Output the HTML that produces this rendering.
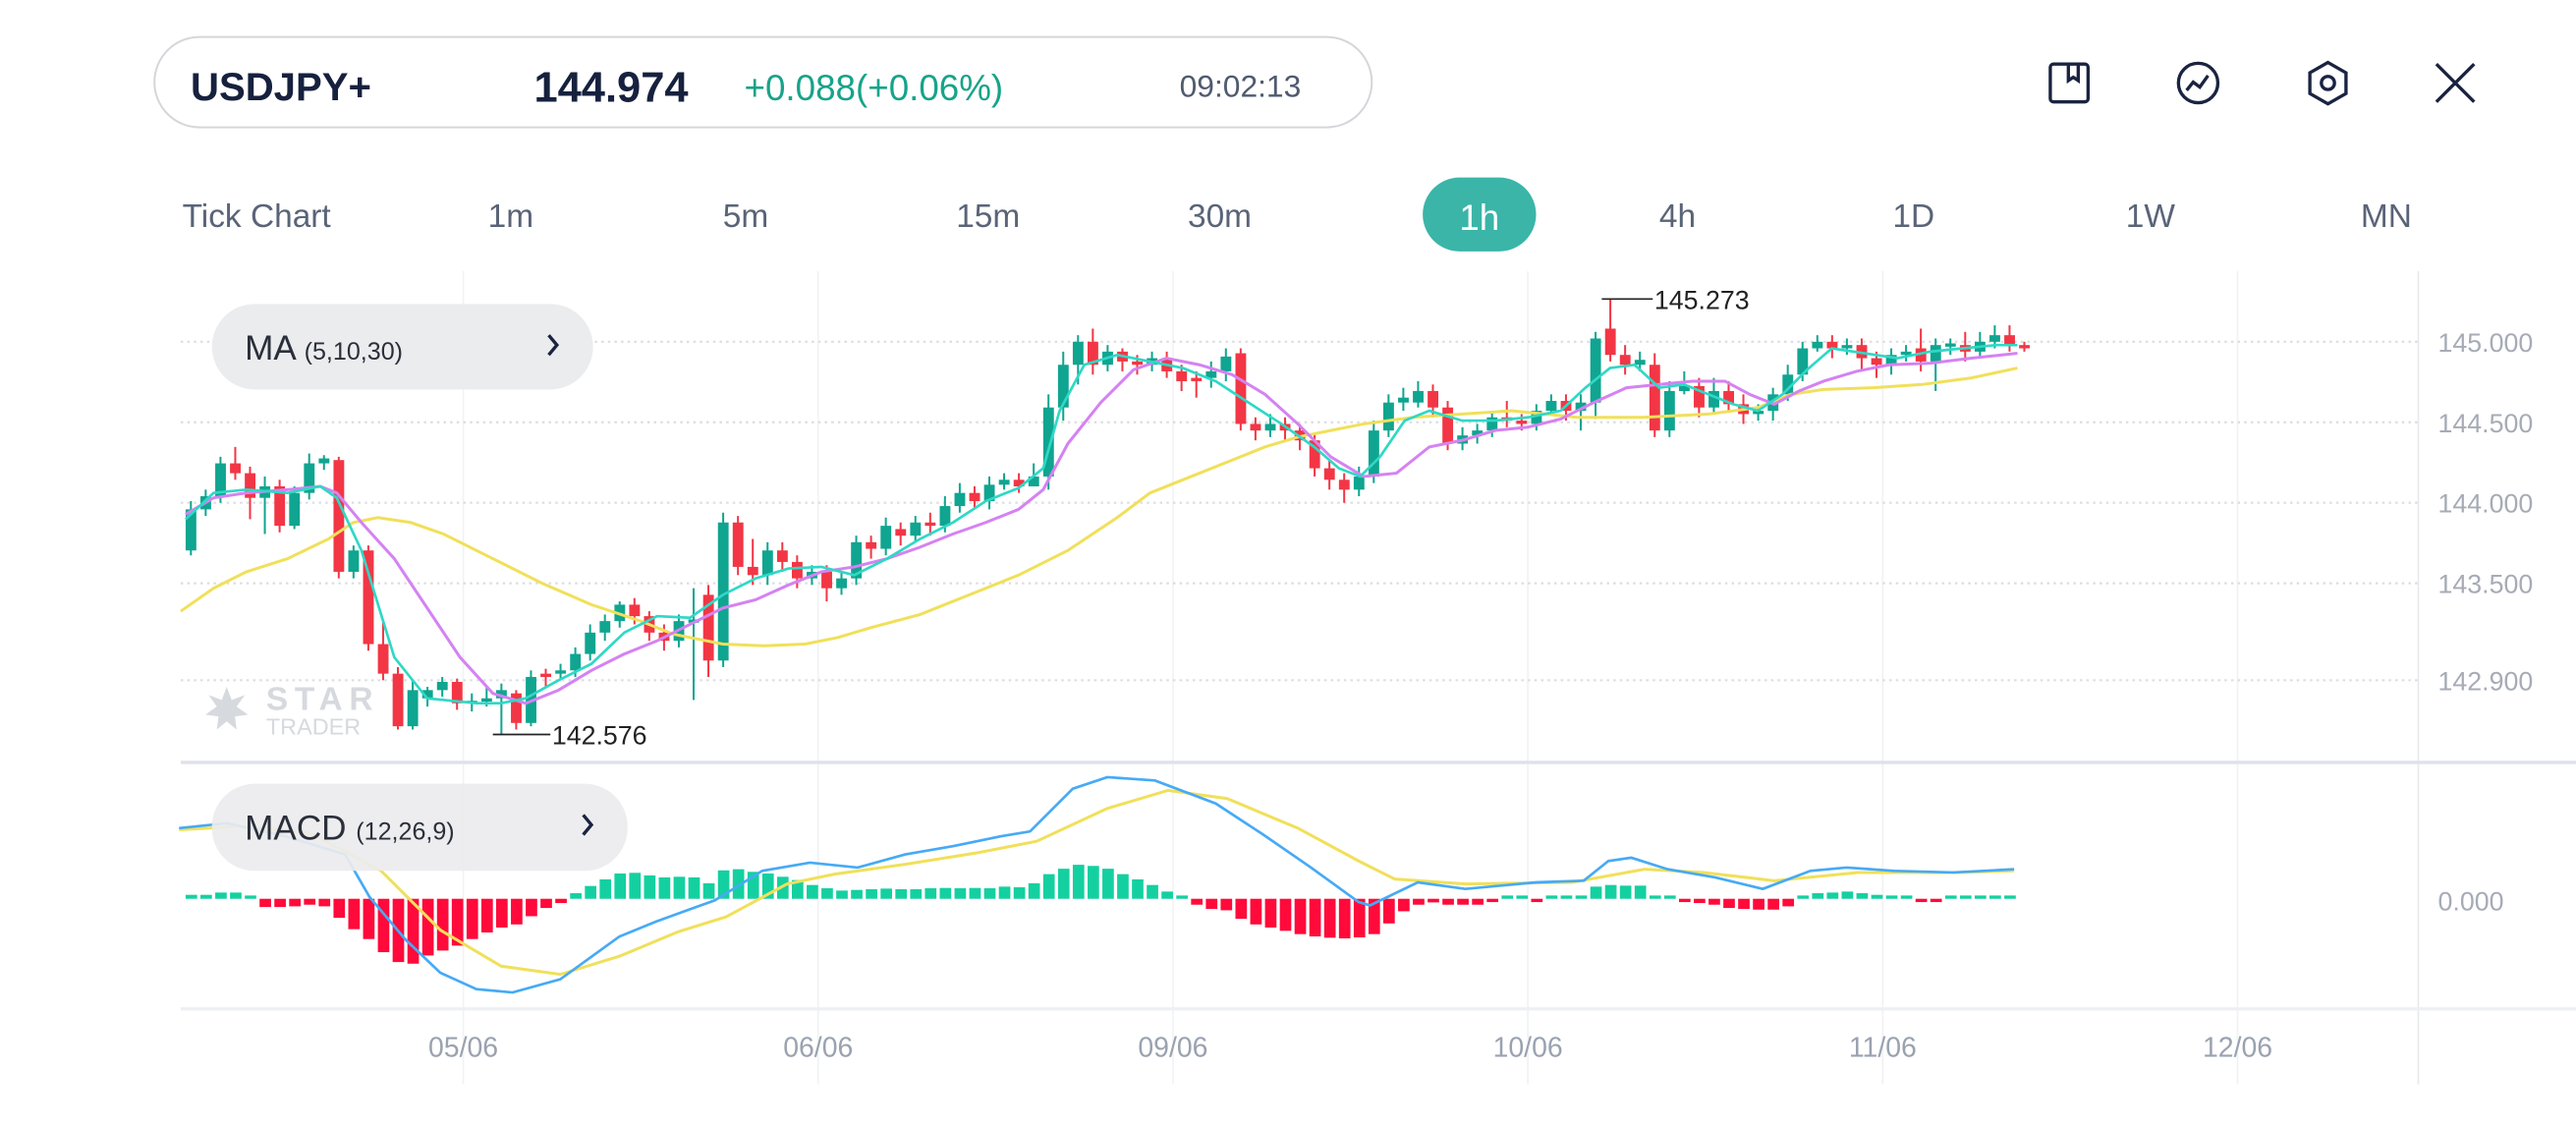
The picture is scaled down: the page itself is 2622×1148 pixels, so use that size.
<!DOCTYPE html>
<html><head><meta charset="utf-8"><style>
html,body{margin:0;padding:0;background:#fff;}
svg{display:block;}
text{font-family:"Liberation Sans",sans-serif;}
.g{fill:#0fa590}.r{fill:#f23645}
.gw{stroke:#0fa590;stroke-width:1.2}.rw{stroke:#f23645;stroke-width:1.2}
.hg{fill:#14d0a0}.hr{fill:#ff0a3a}
</style></head><body>
<svg xmlns="http://www.w3.org/2000/svg" width="2622" height="1148" viewBox="0 0 1568 686.5" preserveAspectRatio="none">
<rect width="1568" height="686.5" fill="#fff"/>
<rect x="94" y="22.5" width="741" height="55" rx="27.5" fill="#fff" stroke="#d4d6da" stroke-width="1.2"/>
<text x="116" y="61" font-size="24" font-weight="bold" fill="#16213e">USDJPY+</text>
<text x="325" y="62" font-size="26" font-weight="bold" fill="#16213e">144.974</text>
<text x="453" y="61" font-size="22" fill="#17a38a">+0.088(+0.06%)</text>
<text x="718" y="59" font-size="19" fill="#505a70">09:02:13</text>
<g fill="none" stroke="#1a2340" stroke-width="2">
<rect x="1248" y="39" width="23" height="23" rx="2"/>
<path d="M1259 39 v10 l3 -2 l3 2 v-10"/>
<circle cx="1338" cy="50.5" r="12"/>
<path d="M1331 55 l4 -5 l4 3 l5 -7"/>
<path d="M1417 38 l11 6.3 v12.6 l-11 6.3 l-11 -6.3 v-12.6 z"/>
<circle cx="1417" cy="50.5" r="4"/>
<path d="M1483 39 l23 23 M1506 39 l-23 23"/>
</g>
<g font-size="20" fill="#5a6478">
<text x="111" y="138">Tick Chart</text><text x="297" y="138">1m</text><text x="440" y="138">5m</text>
<text x="582" y="138">15m</text><text x="723" y="138">30m</text><text x="1010" y="138">4h</text>
<text x="1152" y="138">1D</text><text x="1294" y="138">1W</text><text x="1437" y="138">MN</text>
</g>
<rect x="866" y="108" width="69" height="45" rx="22.5" fill="#3bb5a8"/>
<text x="900.5" y="140" font-size="22" fill="#fff" text-anchor="middle">1h</text>
<g stroke="#f1f2f4" stroke-width="1">
<line x1="282" y1="165" x2="282" y2="660"/><line x1="498" y1="165" x2="498" y2="660"/>
<line x1="714" y1="165" x2="714" y2="660"/><line x1="930" y1="165" x2="930" y2="660"/>
<line x1="1146" y1="165" x2="1146" y2="660"/><line x1="1362" y1="165" x2="1362" y2="660"/>
<line x1="1472" y1="165" x2="1472" y2="660" stroke="#e8e9ec"/>
<line x1="110" y1="614" x2="1568" y2="614" stroke="#eeeff2" stroke-width="2"/>
</g>
<g stroke="#dcdde2" stroke-width="1.3" stroke-dasharray="1.5 2.5">
<line x1="110" y1="208" x2="1472" y2="208"/><line x1="110" y1="257" x2="1472" y2="257"/>
<line x1="110" y1="306" x2="1472" y2="306"/><line x1="110" y1="355" x2="1472" y2="355"/>
<line x1="110" y1="414" x2="1472" y2="414"/>
</g>
<line x1="110" y1="464" x2="1568" y2="464" stroke="#dfe1ea" stroke-width="2"/>
<g font-size="16" fill="#a6abb6">
<text x="1484" y="214">145.000</text><text x="1484" y="263">144.500</text>
<text x="1484" y="312">144.000</text><text x="1484" y="361">143.500</text>
<text x="1484" y="420">142.900</text><text x="1484" y="554">0.000</text>
</g>
<g font-size="17" fill="#9aa2b0" text-anchor="middle">
<text x="282" y="643">05/06</text><text x="498" y="643">06/06</text><text x="714" y="643">09/06</text>
<text x="930" y="643">10/06</text><text x="1146" y="643">11/06</text><text x="1362" y="643">12/06</text>
</g>
<g fill="#d6d9de">
<path d="M138 418 l3 8 l8 -3 l-5 7 l7 5 l-8 1 l1 8 l-6 -5 l-6 5 l1 -8 l-8 -1 l7 -5 l-5 -7 l8 3 z"/>
<text x="162" y="432" font-size="20" font-weight="bold" letter-spacing="4">STAR</text>
<text x="162" y="447" font-size="14">TRADER</text>
</g>

<!-- candles -->
<g>
<path class="gw" d="M116.2 305V338"/><rect class="g" x="113" y="310" width="6.5" height="25"/>
<path class="gw" d="M125.2 298V314"/><rect class="g" x="122" y="302" width="6.5" height="8"/>
<path class="gw" d="M134.2 278V306"/><rect class="g" x="131" y="282" width="6.5" height="20"/>
<path class="rw" d="M143.2 272V292"/><rect class="r" x="140" y="282" width="6.5" height="6"/>
<path class="rw" d="M152.2 284V316"/><rect class="r" x="149" y="288" width="6.5" height="15"/>
<path class="gw" d="M161.2 290V325"/><rect class="g" x="158" y="296" width="6.5" height="7"/>
<path class="rw" d="M170.2 292V324"/><rect class="r" x="167" y="296" width="6.5" height="24"/>
<path class="gw" d="M179.2 296V322"/><rect class="g" x="176" y="300" width="6.5" height="20"/>
<path class="gw" d="M188.2 276V304"/><rect class="g" x="185" y="282" width="6.5" height="18"/>
<path class="gw" d="M197.2 277V286"/><rect class="g" x="194" y="279" width="6.5" height="3"/>
<path class="rw" d="M206.2 278V352"/><rect class="r" x="203" y="280" width="6.5" height="68"/>
<path class="gw" d="M215.2 332V352"/><rect class="g" x="212" y="335" width="6.5" height="13"/>
<path class="rw" d="M224.2 332V396"/><rect class="r" x="221" y="335" width="6.5" height="57"/>
<path class="rw" d="M233.2 378V414"/><rect class="r" x="230" y="392" width="6.5" height="18"/>
<path class="rw" d="M242.2 406V444"/><rect class="r" x="239" y="410" width="6.5" height="32"/>
<path class="gw" d="M251.2 414V444"/><rect class="g" x="248" y="420" width="6.5" height="22"/>
<path class="gw" d="M260.2 418V430"/><rect class="g" x="257" y="420" width="6.5" height="5"/>
<path class="gw" d="M269.2 412V424"/><rect class="g" x="266" y="415" width="6.5" height="5"/>
<path class="rw" d="M278.2 413V432"/><rect class="r" x="275" y="415" width="6.5" height="13"/>
<path class="gw" d="M287.2 422V433"/><rect class="g" x="284" y="426.5" width="6.5" height="1.5"/>
<path class="gw" d="M296.2 418V430"/><rect class="g" x="293" y="425" width="6.5" height="2"/>
<path class="gw" d="M305.2 416V447"/><rect class="g" x="302" y="420" width="6.5" height="5"/>
<path class="rw" d="M314.2 420V444"/><rect class="r" x="311" y="422" width="6.5" height="18"/>
<path class="gw" d="M323.2 408V442"/><rect class="g" x="320" y="412" width="6.5" height="28"/>
<path class="rw" d="M332.2 407V418"/><rect class="r" x="329" y="410" width="6.5" height="2"/>
<path class="gw" d="M341.2 404V414"/><rect class="g" x="338" y="408" width="6.5" height="2"/>
<path class="gw" d="M350.2 394V412"/><rect class="g" x="347" y="398" width="6.5" height="10"/>
<path class="gw" d="M359.2 380V402"/><rect class="g" x="356" y="385" width="6.5" height="13"/>
<path class="gw" d="M368.2 374V390"/><rect class="g" x="365" y="378" width="6.5" height="7"/>
<path class="gw" d="M377.2 366V382"/><rect class="g" x="374" y="368" width="6.5" height="10"/>
<path class="rw" d="M386.2 364V380"/><rect class="r" x="383" y="368" width="6.5" height="7"/>
<path class="rw" d="M395.2 372V390"/><rect class="r" x="392" y="375" width="6.5" height="10"/>
<path class="rw" d="M404.2 380V396"/><rect class="r" x="401" y="385" width="6.5" height="5"/>
<path class="gw" d="M413.2 374V394"/><rect class="g" x="410" y="378" width="6.5" height="12"/>
<path class="gw" d="M422.2 358V426"/><rect class="g" x="419" y="377" width="6.5" height="2"/>
<path class="rw" d="M431.2 356V412"/><rect class="r" x="428" y="362" width="6.5" height="40"/>
<path class="gw" d="M440.2 312V406"/><rect class="g" x="437" y="318" width="6.5" height="84"/>
<path class="rw" d="M449.2 314V350"/><rect class="r" x="446" y="318" width="6.5" height="27"/>
<path class="rw" d="M458.2 328V356"/><rect class="r" x="455" y="345" width="6.5" height="5"/>
<path class="gw" d="M467.2 330V356"/><rect class="g" x="464" y="335" width="6.5" height="15"/>
<path class="rw" d="M476.2 330V348"/><rect class="r" x="473" y="335" width="6.5" height="7"/>
<path class="rw" d="M485.2 338V358"/><rect class="r" x="482" y="342" width="6.5" height="10"/>
<path class="gw" d="M494.2 344V356"/><rect class="g" x="491" y="348" width="6.5" height="4"/>
<path class="rw" d="M503.2 344V366"/><rect class="r" x="500" y="348" width="6.5" height="10"/>
<path class="gw" d="M512.2 348V362"/><rect class="g" x="509" y="352" width="6.5" height="6"/>
<path class="gw" d="M521.2 326V356"/><rect class="g" x="518" y="330" width="6.5" height="22"/>
<path class="rw" d="M530.2 326V340"/><rect class="r" x="527" y="330" width="6.5" height="4"/>
<path class="gw" d="M539.2 315V338"/><rect class="g" x="536" y="320" width="6.5" height="14"/>
<path class="rw" d="M548.2 318V332"/><rect class="r" x="545" y="322" width="6.5" height="4"/>
<path class="gw" d="M557.2 314V330"/><rect class="g" x="554" y="318" width="6.5" height="8"/>
<path class="rw" d="M566.2 312V326"/><rect class="r" x="563" y="318" width="6.5" height="2"/>
<path class="gw" d="M575.2 302V324"/><rect class="g" x="572" y="308" width="6.5" height="12"/>
<path class="gw" d="M584.2 294V312"/><rect class="g" x="581" y="300" width="6.5" height="8"/>
<path class="rw" d="M593.2 296V310"/><rect class="r" x="590" y="300" width="6.5" height="5"/>
<path class="gw" d="M602.2 290V310"/><rect class="g" x="599" y="295" width="6.5" height="10"/>
<path class="gw" d="M611.2 288V298"/><rect class="g" x="608" y="292" width="6.5" height="3"/>
<path class="rw" d="M620.2 288V300"/><rect class="r" x="617" y="292" width="6.5" height="4"/>
<path class="gw" d="M629.2 282V296"/><rect class="g" x="626" y="290" width="6.5" height="6"/>
<path class="gw" d="M638.2 240V298"/><rect class="g" x="635" y="248" width="6.5" height="42"/>
<path class="gw" d="M647.2 214V256"/><rect class="g" x="644" y="222" width="6.5" height="26"/>
<path class="gw" d="M656.2 204V234"/><rect class="g" x="653" y="208" width="6.5" height="14"/>
<path class="rw" d="M665.2 200V228"/><rect class="r" x="662" y="208" width="6.5" height="14"/>
<path class="gw" d="M674.2 210V226"/><rect class="g" x="671" y="214" width="6.5" height="8"/>
<path class="rw" d="M683.2 212V226"/><rect class="r" x="680" y="214" width="6.5" height="6"/>
<path class="rw" d="M692.2 216V228"/><rect class="r" x="689" y="220" width="6.5" height="2"/>
<path class="gw" d="M701.2 214V226"/><rect class="g" x="698" y="218" width="6.5" height="4"/>
<path class="rw" d="M710.2 214V230"/><rect class="r" x="707" y="218" width="6.5" height="8"/>
<path class="rw" d="M719.2 222V238"/><rect class="r" x="716" y="226" width="6.5" height="6"/>
<path class="rw" d="M728.2 226V242"/><rect class="r" x="725" y="230" width="6.5" height="2"/>
<path class="gw" d="M737.2 220V236"/><rect class="g" x="734" y="226" width="6.5" height="4"/>
<path class="gw" d="M746.2 212V232"/><rect class="g" x="743" y="217" width="6.5" height="9"/>
<path class="rw" d="M755.2 212V262"/><rect class="r" x="752" y="215" width="6.5" height="43"/>
<path class="rw" d="M764.2 254V268"/><rect class="r" x="761" y="258" width="6.5" height="4"/>
<path class="gw" d="M773.2 252V266"/><rect class="g" x="770" y="258" width="6.5" height="4"/>
<path class="rw" d="M782.2 254V268"/><rect class="r" x="779" y="258" width="6.5" height="4"/>
<path class="rw" d="M791.2 258V274"/><rect class="r" x="788" y="262" width="6.5" height="6"/>
<path class="rw" d="M800.2 264V290"/><rect class="r" x="797" y="268" width="6.5" height="17"/>
<path class="rw" d="M809.2 280V298"/><rect class="r" x="806" y="285" width="6.5" height="7"/>
<path class="rw" d="M818.2 288V306"/><rect class="r" x="815" y="292" width="6.5" height="6"/>
<path class="gw" d="M827.2 284V302"/><rect class="g" x="824" y="290" width="6.5" height="8"/>
<path class="gw" d="M836.2 256V294"/><rect class="g" x="833" y="262" width="6.5" height="28"/>
<path class="gw" d="M845.2 240V266"/><rect class="g" x="842" y="245" width="6.5" height="17"/>
<path class="gw" d="M854.2 236V250"/><rect class="g" x="851" y="242" width="6.5" height="3"/>
<path class="gw" d="M863.2 232V248"/><rect class="g" x="860" y="238" width="6.5" height="7"/>
<path class="rw" d="M872.2 234V254"/><rect class="r" x="869" y="238" width="6.5" height="10"/>
<path class="rw" d="M881.2 244V274"/><rect class="r" x="878" y="248" width="6.5" height="22"/>
<path class="gw" d="M890.2 260V274"/><rect class="g" x="887" y="265" width="6.5" height="5"/>
<path class="gw" d="M899.2 258V270"/><rect class="g" x="896" y="262" width="6.5" height="3"/>
<path class="gw" d="M908.2 250V266"/><rect class="g" x="905" y="254" width="6.5" height="8"/>
<path class="rw" d="M917.2 244V260"/><rect class="r" x="914" y="254" width="6.5" height="2"/>
<path class="rw" d="M926.2 252V262"/><rect class="r" x="923" y="256" width="6.5" height="2"/>
<path class="gw" d="M935.2 246V262"/><rect class="g" x="932" y="250" width="6.5" height="8"/>
<path class="gw" d="M944.2 240V252"/><rect class="g" x="941" y="244" width="6.5" height="6"/>
<path class="rw" d="M953.2 240V256"/><rect class="r" x="950" y="244" width="6.5" height="6"/>
<path class="gw" d="M962.2 240V262"/><rect class="g" x="959" y="245" width="6.5" height="5"/>
<path class="gw" d="M971.2 202V255"/><rect class="g" x="968" y="206" width="6.5" height="39"/>
<path class="rw" d="M980.2 182V220"/><rect class="r" x="977" y="200" width="6.5" height="16"/>
<path class="rw" d="M989.2 210V228"/><rect class="r" x="986" y="216" width="6.5" height="6"/>
<path class="gw" d="M998.2 214V226"/><rect class="g" x="995" y="219" width="6.5" height="3"/>
<path class="rw" d="M1007.2 215V266"/><rect class="r" x="1004" y="222" width="6.5" height="40"/>
<path class="gw" d="M1016.2 232V266"/><rect class="g" x="1013" y="238" width="6.5" height="24"/>
<path class="gw" d="M1025.2 226V240"/><rect class="g" x="1022" y="235" width="6.5" height="3"/>
<path class="rw" d="M1034.2 230V254"/><rect class="r" x="1031" y="235" width="6.5" height="13"/>
<path class="gw" d="M1043.2 230V252"/><rect class="g" x="1040" y="238" width="6.5" height="10"/>
<path class="rw" d="M1052.2 232V250"/><rect class="r" x="1049" y="238" width="6.5" height="8"/>
<path class="rw" d="M1061.2 240V258"/><rect class="r" x="1058" y="246" width="6.5" height="6"/>
<path class="gw" d="M1070.2 246V256"/><rect class="g" x="1067" y="250" width="6.5" height="2"/>
<path class="gw" d="M1079.2 236V256"/><rect class="g" x="1076" y="240" width="6.5" height="10"/>
<path class="gw" d="M1088.2 222V244"/><rect class="g" x="1085" y="228" width="6.5" height="12"/>
<path class="gw" d="M1097.2 208V232"/><rect class="g" x="1094" y="212" width="6.5" height="16"/>
<path class="gw" d="M1106.2 204V214"/><rect class="g" x="1103" y="208" width="6.5" height="4"/>
<path class="rw" d="M1115.2 204V218"/><rect class="r" x="1112" y="208" width="6.5" height="4"/>
<path class="gw" d="M1124.2 206V216"/><rect class="g" x="1121" y="210" width="6.5" height="2"/>
<path class="rw" d="M1133.2 206V226"/><rect class="r" x="1130" y="210" width="6.5" height="8"/>
<path class="rw" d="M1142.2 214V230"/><rect class="r" x="1139" y="218" width="6.5" height="4"/>
<path class="gw" d="M1151.2 212V228"/><rect class="g" x="1148" y="216" width="6.5" height="6"/>
<path class="gw" d="M1160.2 210V220"/><rect class="g" x="1157" y="214" width="6.5" height="2"/>
<path class="rw" d="M1169.2 200V226"/><rect class="r" x="1166" y="212" width="6.5" height="8"/>
<path class="gw" d="M1178.2 206V238"/><rect class="g" x="1175" y="210" width="6.5" height="10"/>
<path class="gw" d="M1187.2 206V216"/><rect class="g" x="1184" y="209" width="6.5" height="2"/>
<path class="rw" d="M1196.2 202V220"/><rect class="r" x="1193" y="210" width="6.5" height="4"/>
<path class="gw" d="M1205.2 202V218"/><rect class="g" x="1202" y="208" width="6.5" height="6"/>
<path class="gw" d="M1214.2 198V212"/><rect class="g" x="1211" y="204" width="6.5" height="4"/>
<path class="rw" d="M1223.2 198V214"/><rect class="r" x="1220" y="204" width="6.5" height="6"/>
<path class="rw" d="M1232.2 208V214"/><rect class="r" x="1229" y="210" width="6.5" height="2"/>
</g>
<!-- MAs -->
<polyline fill="none" stroke="#f0e05a" stroke-width="1.8" points="110,372 130,358 150,348 175,340 200,328 215,318 230,315 250,318 270,325 300,340 330,355 360,368 390,378 410,386 440,392 465,393 490,392 510,388 530,382 560,374 590,362 620,350 650,335 680,315 700,300 720,292 750,280 770,272 790,266 810,262 830,258 860,254 890,252 920,250 960,254 1000,254 1040,252 1070,248 1090,240 1110,237 1140,236 1170,234 1200,230 1228,224"/>
<polyline fill="none" stroke="#d582f2" stroke-width="1.8" points="113,313 130,303 150,300 175,298 195,296 205,300 220,318 240,340 260,370 280,400 300,422 320,428 340,420 360,408 380,398 400,390 420,380 440,370 460,365 480,356 500,348 520,345 540,340 560,333 580,325 600,318 620,310 635,298 650,270 670,245 690,225 710,218 730,222 750,228 770,240 790,258 810,278 830,290 850,288 870,272 890,268 910,262 930,260 950,255 970,245 990,236 1010,234 1030,232 1050,232 1065,240 1080,246 1095,238 1110,232 1130,226 1150,222 1175,221 1200,218 1228,215"/>
<polyline fill="none" stroke="#2fd8c6" stroke-width="1.6" points="113,316 130,300 150,298 175,300 195,296 205,303 220,335 240,400 260,425 290,428 305,428 320,425 340,414 360,404 380,385 400,375 420,376 440,362 460,352 480,346 500,345 520,350 540,340 560,328 580,318 600,305 620,297 635,285 645,250 660,222 680,216 700,220 720,224 740,232 760,245 780,258 800,272 815,285 828,290 840,278 855,256 870,250 890,256 910,256 930,254 950,250 965,236 980,224 995,222 1010,236 1025,234 1040,240 1055,246 1070,250 1085,240 1100,225 1115,212 1135,215 1155,218 1175,214 1195,212 1215,210 1228,210"/>

<!-- MACD histogram -->
<g>
<rect class="hg" x="113" y="544.6" width="7" height="2.4"/><rect class="hg" x="122" y="544.6" width="7" height="2.4"/><rect class="hg" x="131" y="543.2" width="7" height="3.8"/><rect class="hg" x="140" y="543.2" width="7" height="3.8"/><rect class="hg" x="149" y="545" width="7" height="2"/>
<rect class="hr" x="158" y="547" width="7" height="5"/><rect class="hr" x="167" y="547" width="7" height="5"/><rect class="hr" x="176" y="547" width="7" height="4.6"/><rect class="hr" x="185" y="547" width="7" height="3.6"/><rect class="hr" x="194" y="547" width="7" height="4.6"/>
<rect class="hr" x="203" y="547" width="7" height="11.6"/><rect class="hr" x="212" y="547" width="7" height="18.5"/><rect class="hr" x="221" y="547" width="7" height="24.5"/><rect class="hr" x="230" y="547" width="7" height="32.5"/><rect class="hr" x="239" y="547" width="7" height="38.5"/>
<rect class="hr" x="248" y="547" width="7" height="39.5"/><rect class="hr" x="257" y="547" width="7" height="34.5"/><rect class="hr" x="266" y="547" width="7" height="31.5"/><rect class="hr" x="275" y="547" width="7" height="28.5"/><rect class="hr" x="284" y="547" width="7" height="24.5"/>
<rect class="hr" x="293" y="547" width="7" height="20.5"/><rect class="hr" x="302" y="547" width="7" height="17.5"/><rect class="hr" x="311" y="547" width="7" height="15.6"/><rect class="hr" x="320" y="547" width="7" height="10.6"/><rect class="hr" x="329" y="547" width="7" height="5.6"/>
<rect class="hr" x="338" y="547" width="7" height="2.6"/>
<rect class="hg" x="347" y="543.6" width="7" height="3.4"/><rect class="hg" x="356" y="539.2" width="7" height="7.8"/><rect class="hg" x="365" y="535.2" width="7" height="11.8"/><rect class="hg" x="374" y="531.6" width="7" height="15.4"/><rect class="hg" x="383" y="531.2" width="7" height="15.8"/>
<rect class="hg" x="392" y="532.8" width="7" height="14.2"/><rect class="hg" x="401" y="534" width="7" height="13"/><rect class="hg" x="410" y="533.6" width="7" height="13.4"/><rect class="hg" x="419" y="534" width="7" height="13"/><rect class="hg" x="428" y="537.6" width="7" height="9.4"/>
<rect class="hg" x="437" y="529.7" width="7" height="17.3"/><rect class="hg" x="446" y="529" width="7" height="18"/><rect class="hg" x="455" y="530.6" width="7" height="16.4"/><rect class="hg" x="464" y="531.6" width="7" height="15.4"/><rect class="hg" x="473" y="533.6" width="7" height="13.4"/>
<rect class="hg" x="482" y="535.6" width="7" height="11.4"/><rect class="hg" x="491" y="538.6" width="7" height="8.4"/><rect class="hg" x="500" y="540.6" width="7" height="6.4"/><rect class="hg" x="509" y="542" width="7" height="5"/><rect class="hg" x="518" y="541.6" width="7" height="5.4"/>
<rect class="hg" x="527" y="541.2" width="7" height="5.8"/><rect class="hg" x="536" y="540.8" width="7" height="6.2"/><rect class="hg" x="545" y="541.2" width="7" height="5.8"/><rect class="hg" x="554" y="541.2" width="7" height="5.8"/><rect class="hg" x="563" y="540.6" width="7" height="6.4"/>
<rect class="hg" x="572" y="540.4" width="7" height="6.6"/><rect class="hg" x="581" y="540.6" width="7" height="6.4"/><rect class="hg" x="590" y="540.4" width="7" height="6.6"/><rect class="hg" x="599" y="540.6" width="7" height="6.4"/><rect class="hg" x="608" y="539.6" width="7" height="7.4"/>
<rect class="hg" x="617" y="540" width="7" height="7"/><rect class="hg" x="626" y="537.6" width="7" height="9.4"/><rect class="hg" x="635" y="532" width="7" height="15"/><rect class="hg" x="644" y="528.7" width="7" height="18.3"/><rect class="hg" x="653" y="526.3" width="7" height="20.7"/>
<rect class="hg" x="662" y="527" width="7" height="20"/><rect class="hg" x="671" y="528.7" width="7" height="18.3"/><rect class="hg" x="680" y="532" width="7" height="15"/><rect class="hg" x="689" y="535.2" width="7" height="11.8"/><rect class="hg" x="698" y="538.6" width="7" height="8.4"/>
<rect class="hg" x="707" y="542.6" width="7" height="4.4"/><rect class="hg" x="716" y="545" width="7" height="2"/>
<rect class="hr" x="725" y="547" width="7" height="3.6"/><rect class="hr" x="734" y="547" width="7" height="6.2"/><rect class="hr" x="743" y="547" width="7" height="7"/><rect class="hr" x="752" y="547" width="7" height="12.2"/><rect class="hr" x="761" y="547" width="7" height="15.6"/>
<rect class="hr" x="770" y="547" width="7" height="17.5"/><rect class="hr" x="779" y="547" width="7" height="19.5"/><rect class="hr" x="788" y="547" width="7" height="21.5"/><rect class="hr" x="797" y="547" width="7" height="22.9"/><rect class="hr" x="806" y="547" width="7" height="23.7"/>
<rect class="hr" x="815" y="547" width="7" height="24.1"/><rect class="hr" x="824" y="547" width="7" height="23.5"/><rect class="hr" x="833" y="547" width="7" height="21.5"/><rect class="hr" x="842" y="547" width="7" height="15"/><rect class="hr" x="851" y="547" width="7" height="7.6"/>
<rect class="hr" x="860" y="547" width="7" height="3.6"/><rect class="hr" x="869" y="547" width="7" height="2.2"/><rect class="hr" x="878" y="547" width="7" height="3.6"/><rect class="hr" x="887" y="547" width="7" height="3.6"/><rect class="hr" x="896" y="547" width="7" height="3.6"/>
<rect class="hr" x="905" y="547" width="7" height="2"/>
<rect class="hg" x="914" y="545" width="7" height="2"/><rect class="hg" x="923" y="545" width="7" height="2"/><rect class="hr" x="932" y="547" width="7" height="2"/><rect class="hg" x="941" y="545" width="7" height="2"/><rect class="hg" x="950" y="545" width="7" height="2"/>
<rect class="hg" x="959" y="545" width="7" height="2"/><rect class="hg" x="968" y="539.6" width="7" height="7.4"/><rect class="hg" x="977" y="538.6" width="7" height="8.4"/><rect class="hg" x="986" y="539" width="7" height="8"/><rect class="hg" x="995" y="539" width="7" height="8"/>
<rect class="hg" x="1004" y="545" width="7" height="2"/><rect class="hg" x="1013" y="545" width="7" height="2"/>
<rect class="hr" x="1022" y="547" width="7" height="2"/><rect class="hr" x="1031" y="547" width="7" height="2.6"/><rect class="hr" x="1040" y="547" width="7" height="3.6"/><rect class="hr" x="1049" y="547" width="7" height="5.6"/><rect class="hr" x="1058" y="547" width="7" height="6.2"/>
<rect class="hr" x="1067" y="547" width="7" height="6.6"/><rect class="hr" x="1076" y="547" width="7" height="6.6"/><rect class="hr" x="1085" y="547" width="7" height="4.6"/>
<rect class="hg" x="1094" y="545" width="7" height="2"/><rect class="hg" x="1103" y="543.6" width="7" height="3.4"/><rect class="hg" x="1112" y="543.2" width="7" height="3.8"/><rect class="hg" x="1121" y="542.6" width="7" height="4.4"/><rect class="hg" x="1130" y="543.6" width="7" height="3.4"/>
<rect class="hg" x="1139" y="544.6" width="7" height="2.4"/><rect class="hg" x="1148" y="545" width="7" height="2"/><rect class="hg" x="1157" y="545" width="7" height="2"/><rect class="hr" x="1166" y="547" width="7" height="2"/><rect class="hr" x="1175" y="547" width="7" height="2"/>
<rect class="hg" x="1184" y="545" width="7" height="2"/><rect class="hg" x="1193" y="545" width="7" height="2"/><rect class="hg" x="1202" y="545" width="7" height="2"/><rect class="hg" x="1211" y="545" width="7" height="2"/><rect class="hg" x="1220" y="545" width="7" height="2"/>
</g>
<polyline fill="none" stroke="#f0e05a" stroke-width="1.8" points="109,505 145,503 189,507 232,530 268,566 305,588 341,593 377,582 413,567 442,558 479,538 508,532 551,526 595,519 631,512 674,492 711,481 747,486 790,504 827,524 849,535 892,538 957,537 1001,529 1037,531 1080,536 1131,531 1189,531 1226,530"/>
<polyline fill="none" stroke="#46aaf5" stroke-width="1.6" points="109,504 138,501 174,509 210,520 225,546 247,572 268,592 290,602 312,604 341,596 377,570 399,561 421,553 435,548 464,530 493,525 522,528 551,520 580,515 609,509 627,506 653,480 674,473 703,475 740,489 769,508 798,528 827,549 834,551 863,537 892,541 935,537 964,536 979,524 993,522 1015,529 1044,534 1073,541 1102,530 1124,528 1153,530 1189,531 1226,529"/>

<rect x="129" y="185" width="232" height="52" rx="26" fill="#ebecee"/>
<text x="149" y="219" font-size="21" fill="#2a2f3a">MA <tspan font-size="15">(5,10,30)</tspan></text>
<path d="M334 204 l5 6 l-5 6" fill="none" stroke="#1a2340" stroke-width="2"/>
<rect x="129" y="477" width="253" height="53" rx="26" fill="#ebecee" fill-opacity="0.92"/>
<text x="149" y="511" font-size="21" fill="#2a2f3a">MACD <tspan font-size="15">(12,26,9)</tspan></text>
<path d="M355 496 l5 6 l-5 6" fill="none" stroke="#1a2340" stroke-width="2"/>
<line x1="975" y1="182" x2="1006" y2="182" stroke="#222" stroke-width="1"/>
<text x="1007" y="188" font-size="16" fill="#222">145.273</text>
<line x1="300" y1="447" x2="335" y2="447" stroke="#222" stroke-width="1"/>
<text x="336" y="453" font-size="16" fill="#222">142.576</text>
</svg>
</body></html>
